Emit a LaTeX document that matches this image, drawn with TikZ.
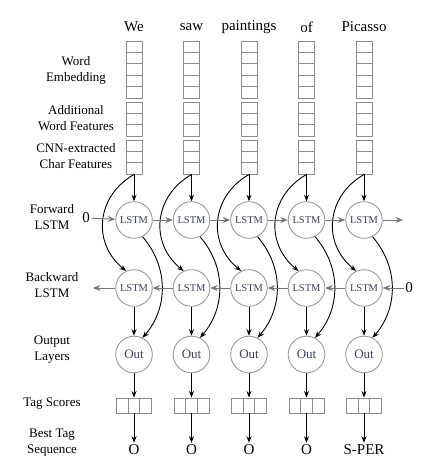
\documentclass[tikz,border=0pt]{standalone}
\usepackage{fontspec}
\setmainfont{Liberation Serif}
\usetikzlibrary{arrows.meta}
\definecolor{boxgray}{HTML}{8C8C8C}
\definecolor{circgray}{HTML}{9A9A9A}
\definecolor{arrgray}{HTML}{777777}
\definecolor{intext}{HTML}{3E4358}
\begin{document}
\begin{tikzpicture}[x=1pt,y=-1pt,
  vec/.style={draw=boxgray, line width=0.9pt, inner sep=0pt, minimum width=16pt},
  cell/.style={draw=boxgray, line width=0.9pt},
  lstm/.style={circle, draw=circgray, line width=0.9pt, minimum size=36.6pt, inner sep=0pt, text=intext, font=\fontsize{10.5}{12}\selectfont},
  outn/.style={circle, draw=circgray, line width=0.9pt, minimum size=36.6pt, inner sep=0pt, text=intext, font=\fontsize{13}{15}\selectfont},
  tagbox/.style={draw=boxgray, line width=0.9pt, inner sep=0pt, minimum width=35pt, minimum height=15pt},
  word/.style={font=\fontsize{15}{17}\selectfont, inner sep=1.5pt},
  lab/.style={font=\fontsize{13}{16}\selectfont, align=center, inner sep=0pt},
  barrow/.style={-{Stealth[length=6.5pt,width=5pt]}, line width=0.9pt, black},
  garrow/.style={-{Stealth[length=7.5pt,width=6pt,inset=2.5pt]}, line width=0.9pt, arrgray},
]
\useasboundingbox (0,0) rectangle (430,471);

% row labels
\node[lab] (l1) at (76,70) {Word\\Embedding};
\node[lab] (l2) at (76,118) {Additional\\Word Features};
\node[lab] (l3) at (76,156) {CNN-extracted\\Char Features};
\node[lab] (l4) at (52,217) {Forward\\LSTM};
\node[lab] (l5) at (52,285) {Backward\\LSTM};
\node[lab] (l6) at (52,350) {Output\\Layers};
\node[lab] (l7) at (52,404) {Tag Scores};
\node[lab] (l8) at (52,443) {Best Tag\\Sequence};

% initial states
\node[word] (z1) at (86,218) {0};
\node[word] (z2) at (409,288) {0};
\coordinate (fe) at (403,220);
\coordinate (be) at (93,288);

\foreach \i/\x/\w/\t in {1/134/We/O, 2/191.5/saw/O, 3/249/paintings/O, 4/306.5/of/O, 5/364/Picasso/S-PER}{
  \node[word] (w\i) at (\x,27) {\w};
  \node[vec, minimum height=57pt] (we\i) at (\x,69.5) {};
  \foreach \k in {1,...,4} \draw[cell] (\x-8,41+11.4*\k) -- (\x+8,41+11.4*\k);
  \node[vec, minimum height=34pt] (af\i) at (\x,119) {};
  \foreach \k in {1,2} \draw[cell] (\x-8,102+11.33*\k) -- (\x+8,102+11.33*\k);
  \node[vec, minimum height=34pt] (cf\i) at (\x,157) {};
  \foreach \k in {1,2} \draw[cell] (\x-8,140+11.33*\k) -- (\x+8,140+11.33*\k);
  \node[lstm] (f\i) at (\x,220) {LSTM};
  \node[lstm] (b\i) at (\x,288) {LSTM};
  \node[outn] (o\i) at (\x,354.5) {Out};
  \node[tagbox] (ts\i) at (\x,405.5) {};
  \draw[cell] (\x-5.83,398) -- (\x-5.83,413);
  \draw[cell] (\x+5.83,398) -- (\x+5.83,413);
  \node[word, inner sep=2pt] (t\i) at (\x,450) {\t};
  % connectors
  \draw[barrow] (cf\i.south) -- (f\i.north);
  \draw[barrow] (cf\i.south) .. controls +(-38,22) and +(-34,-28) .. (b\i.115);
  \draw[barrow] (f\i.297) .. controls +(26,30) and +(26,-30) .. (o\i.63);
  \draw[barrow] (b\i.south) -- (o\i.north);
  \draw[barrow] (o\i.south) -- (ts\i.north);
  \draw[barrow] (ts\i.south) -- (t\i.north);
}

% recurrent connections
\draw[garrow] (z1) -- (f1);
\draw[garrow] (f1) -- (f2);
\draw[garrow] (f2) -- (f3);
\draw[garrow] (f3) -- (f4);
\draw[garrow] (f4) -- (f5);
\draw[garrow] (f5) -- (fe);
\draw[garrow] (z2) -- (b5);
\draw[garrow] (b5) -- (b4);
\draw[garrow] (b4) -- (b3);
\draw[garrow] (b3) -- (b2);
\draw[garrow] (b2) -- (b1);
\draw[garrow] (b1) -- (be);
\end{tikzpicture}
\end{document}
